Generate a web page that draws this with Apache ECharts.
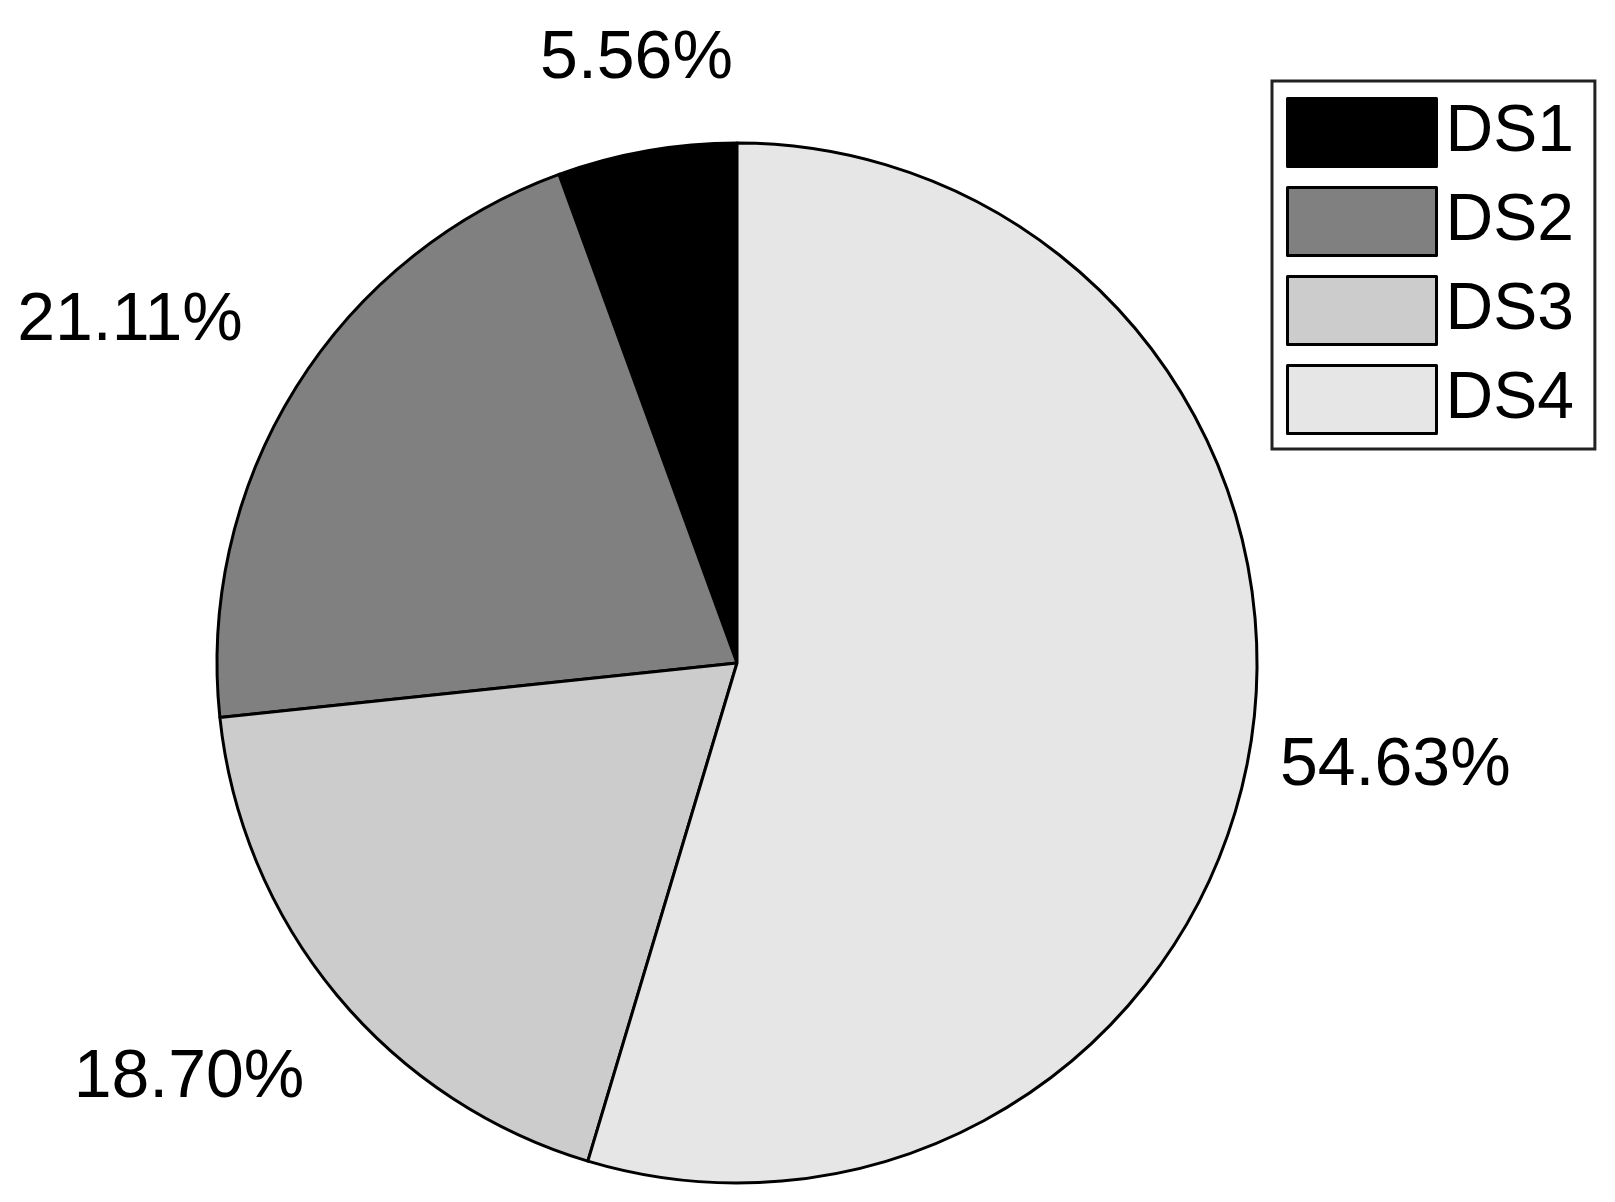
<!DOCTYPE html>
<html lang="en">
<head>
  <meta charset="UTF-8">
  <title>Pie</title>
  <style>
    html, body { margin: 0; padding: 0; background: #fff; }
    #main { width: 1615px; height: 1202px; }
  </style>
</head>
<body>
  <div id="main"></div>
</body>
<script src="https://cdn.jsdelivr.net/npm/echarts@6/dist/echarts.min.js"></script>
<script>
  const names = ['DS1', 'DS2', 'DS3', 'DS4'];
  const values = [5.56, 21.11, 18.70, 54.63];
  const colors = ['#000000', '#808080', '#cccccc', '#e6e6e6'];

  const cx = 737, cy = 663, R = 520;
  const total = values.reduce((a, b) => a + b, 0);

  // mid angle of each slice (counterclockwise from 12 o'clock)
  let acc = 0;
  const midAngles = values.map(v => {
    const a = 90 + (acc + v / 2) / total * 360;
    acc += v;
    return a * Math.PI / 180;
  });

  let myChart = echarts.init(document.getElementById('main'));

  myChart.setOption({
    animation: false,
    legend: {
      orient: 'vertical',
      left: 1272,
      top: 81,
      padding: [16, 21, 14, 14],
      itemWidth: 149,
      itemHeight: 68,
      itemGap: 18,
      icon: 'rect',
      borderColor: '#222',
      borderWidth: 3,
      itemStyle: { borderColor: '#000', borderWidth: 3 },
      textStyle: { fontFamily: 'Liberation Sans', fontSize: 66, color: '#000', padding: [0, 0, 0, 4] },
      data: names
    },
    series: [{
      type: 'pie',
      center: [cx, cy],
      radius: R,
      startAngle: 90,
      clockwise: false,
      avoidLabelOverlap: false,
      itemStyle: { borderColor: '#000', borderWidth: 3 },
      label: {
        show: true,
        position: 'outside',
        fontFamily: 'Liberation Sans',
        fontSize: 68,
        color: '#000',
        formatter: p => p.value.toFixed(2) + '%'
      },
      labelLine: { show: false },
      labelLayout: function (params) {
        const a = midAngles[params.dataIndex];
        const dx = Math.cos(a), dy = -Math.sin(a);
        const tx = 173;
        const ty = 174 - 78 * Math.abs(dy);
        return {
          x: cx + dx * (R + tx) + 30 - 58 * Math.abs(dx),
          y: cy + dy * (R + ty) + 4,
          align: 'center',
          verticalAlign: 'middle'
        };
      },
      data: names.map((n, i) => ({ name: n, value: values[i], itemStyle: { color: colors[i] } }))
    }]
  });
</script>
</html>
